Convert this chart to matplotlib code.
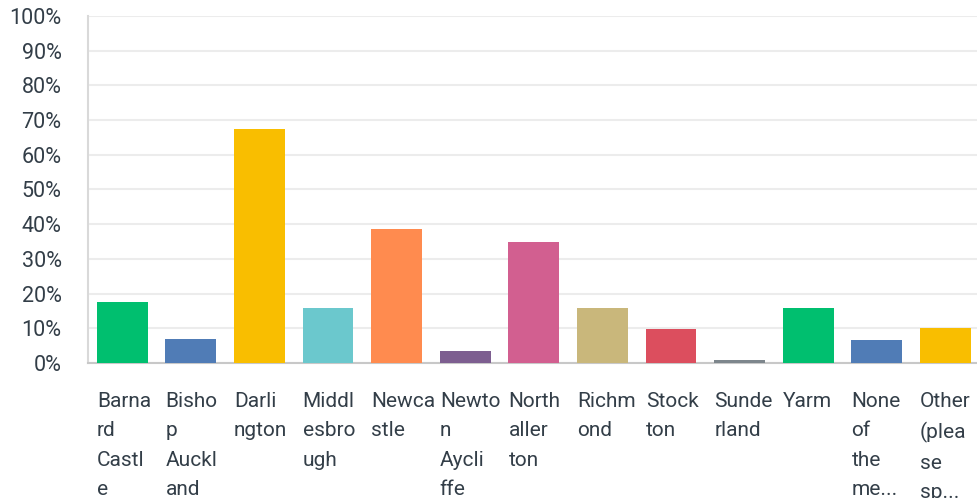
import numpy as np
import matplotlib
matplotlib.use("Agg")
import matplotlib.pyplot as plt
import matplotlib.transforms as mtransforms

# wrapped category labels as shown under the bars
labels = ["Barna\nrd\nCastl\ne", "Bisho\np\nAuckl\nand", "Darli\nngton", "Middl\nesbro\nugh",
          "Newca\nstle", "Newto\nn\nAycli\nffe", "North\naller\nton", "Richm\nond",
          "Stock\nton", "Sunde\nrland", "Yarm", "None\nof\nthe\nme...", "Other\n(plea\nse\nsp..."]
values = [17.6, 6.9, 67.4, 15.9, 38.6, 3.4, 34.9, 15.9, 9.8, 0.9, 15.9, 6.6, 10.1]
colors = ["#00BF6F", "#507CB6", "#F9BE00", "#6BC8CD", "#FF8B4F", "#7D5E90", "#D25F90",
          "#C9B77B", "#DC4E5E", "#7D868C", "#00BF6F", "#507CB6", "#F9BE00"]
yticks = list(range(0, 101, 10))

plt.rcParams["font.family"] = ["Roboto", "DejaVu Sans"]
fig = plt.figure(figsize=(9.77, 4.98), dpi=100)
ax = fig.add_axes([0.090, 0.271, 0.910, 0.697])

x = np.arange(len(values))
ax.bar(x, values, width=0.74, color=colors, zorder=3)
ax.set_xlim(-0.5, len(values) - 0.54)
ax.set_ylim(0, 100)
ax.set_yticks(yticks)
ax.set_yticklabels([f"{t}%" for t in yticks], fontsize=15.5, color="#333e48")
ax.tick_params(axis="y", length=0, pad=19)
ax.set_xticks([])
ax.grid(axis="y", color="#ececec", lw=1.5, zorder=0)
for s in ["top", "right"]:
    ax.spines[s].set_visible(False)
ax.spines["left"].set_color("#d9d9d9"); ax.spines["left"].set_linewidth(1.5)
ax.spines["bottom"].set_color("#c8c8c8"); ax.spines["bottom"].set_linewidth(1.5)

trans = mtransforms.blended_transform_factory(ax.transData, ax.transAxes)
for i, lab in enumerate(labels):
    ax.text(i - 0.37, -0.082, lab, transform=trans, ha="left", va="top",
            fontsize=15, color="#333e48", linespacing=1.7, clip_on=False)

fig.savefig("out.png", dpi=100)
